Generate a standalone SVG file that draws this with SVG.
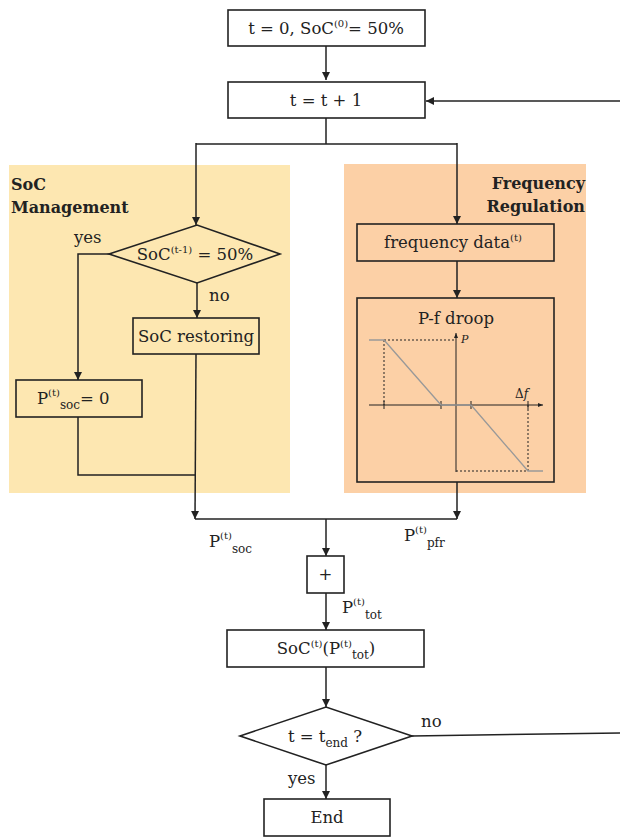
<svg xmlns="http://www.w3.org/2000/svg" width="620" height="837" viewBox="0 0 620 837">
<defs>
<style>
.box{fill:none;stroke:#222;stroke-width:1.6}
.ln{fill:none;stroke:#222;stroke-width:1.5}
.t{font-family:"DejaVu Serif",serif;font-size:16.5px;fill:#222}
.b{font-family:"DejaVu Serif",serif;font-size:16px;font-weight:bold;fill:#222}
.sup{font-size:10px}
.sub{font-size:12px}
.axis{fill:none;stroke:#222;stroke-width:1}
.gray{fill:none;stroke:#999;stroke-width:1.3}
.dot{fill:none;stroke:#222;stroke-width:1;stroke-dasharray:2 2}
</style>
<marker id="ah" viewBox="0 0 10 10" refX="10" refY="5" markerWidth="8" markerHeight="8" markerUnits="userSpaceOnUse" orient="auto">
<path d="M0,0 L10,5 L0,10 z" fill="#222"/>
</marker>
<marker id="sa" viewBox="0 0 10 10" refX="10" refY="5" markerWidth="5" markerHeight="5" markerUnits="userSpaceOnUse" orient="auto">
<path d="M0,1 L10,5 L0,9 z" fill="#222"/>
</marker>
</defs>

<g id="panels">
<rect x="9" y="165" width="281" height="328" fill="#FDE7B1"/>
<rect x="344" y="164" width="242" height="329" fill="#FCD0A6"/>
<text class="b" x="11" y="190">SoC</text>
<text class="b" x="11" y="213">Management</text>
<text class="b" x="585" y="189" text-anchor="end">Frequency</text>
<text class="b" x="585" y="212" text-anchor="end">Regulation</text>
</g>

<g id="connectors">
<path class="ln" d="M326,46 V80" marker-end="url(#ah)"/>
<path class="ln" d="M620,101 H426" marker-end="url(#ah)"/>
<path class="ln" d="M326,118 V144 M196,144 H457"/>
<path class="ln" d="M196,143 V225" marker-end="url(#ah)"/>
<path class="ln" d="M457,143 V224" marker-end="url(#ah)"/>
<path class="ln" d="M109,254 H78 V380" marker-end="url(#ah)"/>
<path class="ln" d="M197,283 V318" marker-end="url(#ah)"/>
<path class="ln" d="M78,417 V475 H195"/>
<path class="ln" d="M196,354 L195,519" marker-end="url(#ah)"/>
<path class="ln" d="M457,261 V298" marker-end="url(#ah)"/>
<path class="ln" d="M457,482 V519" marker-end="url(#ah)"/>
<path class="ln" d="M195,519 H457"/>
<path class="ln" d="M326,519 V556" marker-end="url(#ah)"/>
<path class="ln" d="M326,593 V630" marker-end="url(#ah)"/>
<path class="ln" d="M326,667 V707" marker-end="url(#ah)"/>
<path class="ln" d="M326,765 V799" marker-end="url(#ah)"/>
<path class="ln" d="M412,736 L620,733"/>
<text class="t" x="74" y="243">yes</text>
<text class="t" x="209" y="301">no</text>
<text class="t" x="421" y="727">no</text>
<text class="t" x="288" y="784">yes</text>
<text class="t" x="209" y="547">P<tspan class="sup" dy="-8">(t)</tspan><tspan class="sub" dy="14">soc</tspan></text>
<text class="t" x="404" y="541">P<tspan class="sup" dy="-8">(t)</tspan><tspan class="sub" dy="14">pfr</tspan></text>
<text class="t" x="342" y="613">P<tspan class="sup" dy="-8">(t)</tspan><tspan class="sub" dy="14">tot</tspan></text>
</g>

<g id="start">
<rect class="box" x="228" y="10" width="197" height="36"/>
<text class="t" x="326" y="34" text-anchor="middle">t = 0, SoC<tspan class="sup" dy="-7">(0)</tspan><tspan dy="7">= 50%</tspan></text>
</g>

<g id="increment">
<rect class="box" x="228" y="82" width="197" height="36"/>
<text class="t" x="326" y="106" text-anchor="middle">t = t + 1</text>
</g>

<g id="soc-check">
<polygon class="box" points="109,254 197,225 280,254 197,283"/>
<text class="t" x="195" y="260" text-anchor="middle">SoC<tspan class="sup" dy="-7">(t-1)</tspan><tspan dy="7"> = 50%</tspan></text>
</g>

<g id="soc-restoring">
<rect class="box" x="133" y="318" width="126" height="36"/>
<text class="t" x="196" y="342" text-anchor="middle">SoC restoring</text>
</g>

<g id="psoc-zero">
<rect class="box" x="16" y="380" width="126" height="37"/>
<text class="t" x="37" y="404">P<tspan class="sup" dy="-8">(t)</tspan><tspan class="sub" dy="13">soc</tspan><tspan dy="-5">= 0</tspan></text>
</g>

<g id="frequency-data">
<rect class="box" x="357" y="224" width="197" height="37"/>
<text class="t" x="453" y="248" text-anchor="middle">frequency data<tspan class="sup" dy="-7">(t)</tspan></text>
</g>

<g id="pf-droop">
<rect class="box" x="357" y="298" width="197" height="184"/>
<text class="t" x="456" y="324" text-anchor="middle">P-f droop</text>
<path class="axis" d="M369,405 H543" marker-end="url(#sa)"/>
<path class="axis" d="M456,472 V333" marker-end="url(#sa)"/>
<path class="axis" d="M384,401 V409 M441,401 V409 M471,401 V409 M528,401 V409"/>
<path class="dot" d="M384,340 H456 M384,340 V405 M528,405 V471 M456,471 H528"/>
<path class="gray" d="M369,340 H384 L441,405 H471 L528,471 H543"/>
<text x="461" y="343" font-family="DejaVu Serif,serif" font-style="italic" font-size="11" fill="#222">P</text>
<text x="515" y="398" font-family="DejaVu Serif,serif" font-size="12" fill="#222">Δ<tspan font-style="italic">f</tspan></text>
</g>

<g id="sum">
<rect class="box" x="307" y="556" width="37" height="37"/>
<text class="t" x="325.5" y="580" text-anchor="middle">+</text>
</g>

<g id="soc-update">
<rect class="box" x="227" y="630" width="197" height="37"/>
<text class="t" x="326" y="654" text-anchor="middle">SoC<tspan class="sup" dy="-7">(t)</tspan><tspan dy="7">(P</tspan><tspan class="sup" dy="-7">(t)</tspan><tspan class="sub" dy="12">tot</tspan><tspan dy="-5">)</tspan></text>
</g>

<g id="end-check">
<polygon class="box" points="240,736 326,707 412,736 326,765"/>
<text class="t" x="325" y="742" text-anchor="middle">t = t<tspan class="sub" dy="5">end</tspan><tspan dy="-5"> ?</tspan></text>
</g>

<g id="end">
<rect class="box" x="264" y="799" width="126" height="37"/>
<text class="t" x="327" y="823" text-anchor="middle">End</text>
</g>
</svg>
